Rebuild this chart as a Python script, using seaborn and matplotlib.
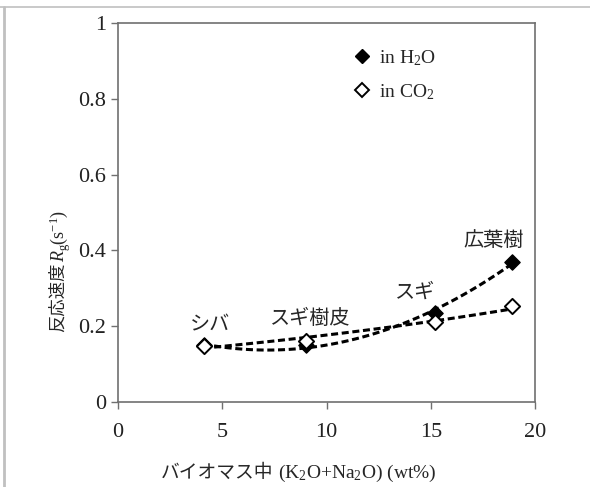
import numpy as np
import pandas as pd
import seaborn as sns
from matplotlib import pyplot as plt
from matplotlib.lines import Line2D

# data
biomass = ["シバ", "スギ樹皮", "スギ", "広葉樹"]
alkali = [4.1, 9.0, 15.2, 18.9]          # K2O+Na2O (wt%)
rate_h2o = [0.150, 0.150, 0.235, 0.369]  # Rg in H2O (s^-1)
rate_co2 = [0.148, 0.161, 0.211, 0.253]  # Rg in CO2 (s^-1)
label_x = [4.4, 9.2, 14.25, 18.0]
label_y = [0.203, 0.221, 0.289, 0.426]

sns.set_style("ticks")
plt.rcParams["font.family"] = ["Liberation Serif", "Noto Sans CJK JP"]
plt.rcParams["mathtext.fontset"] = "custom"
plt.rcParams["mathtext.rm"] = "Liberation Serif"
plt.rcParams["mathtext.it"] = "Liberation Serif:italic"
jp = ["Noto Sans CJK JP"]

df = pd.DataFrame({"x": alkali, "h2o": rate_h2o, "co2": rate_co2})

fig = plt.figure(figsize=(5.9, 4.87), dpi=100)
ax = fig.add_axes([0.2, 0.1745, 0.707, 0.7785])

# trend lines: polynomial for H2O, exponential for CO2
xs = np.linspace(min(alkali), max(alkali), 100)
c_h2o = np.polyfit(df["x"], df["h2o"], 2)
c_co2 = np.polyfit(df["x"], np.log(df["co2"]), 1)
fits = {"h2o": np.polyval(c_h2o, xs), "co2": np.exp(np.polyval(c_co2, xs))}
for col, yfit in fits.items():
    fit = pd.DataFrame({"x": xs, "y": yfit})
    sns.lineplot(data=fit, x="x", y="y", ax=ax, color="black", lw=2.2,
                 dashes=False, linestyle=(0, (2.3, 1.2)), zorder=2)

sns.scatterplot(data=df, x="x", y="h2o", ax=ax, marker="D", s=60,
                color="black", edgecolor="black", linewidth=1, zorder=3)
sns.scatterplot(data=df, x="x", y="co2", ax=ax, marker="D", s=60,
                facecolor="white", edgecolor="black", linewidth=1.4, zorder=4)

for name, lx, ly in zip(biomass, label_x, label_y):
    ax.text(lx, ly, name, ha="center", va="center", fontsize=14.5, family=jp)

handles = [
    Line2D([], [], marker="D", ls="none", ms=7, mfc="black", mec="black"),
    Line2D([], [], marker="D", ls="none", ms=7, mfc="white", mec="black", mew=1.4),
]
ax.legend(handles, ["in H$_2$O", "in CO$_2$"], loc="upper left",
          bbox_to_anchor=(0.515, 0.98), frameon=False, fontsize=14,
          handletextpad=0.3, labelspacing=0.75, handlelength=1.2)

ax.set_xlim(0, 20)
ax.set_ylim(0, 1)
ax.set_xticks([0, 5, 10, 15, 20])
ax.set_yticks([0, 0.2, 0.4, 0.6, 0.8, 1])
ax.set_yticklabels(["0", "0.2", "0.4", "0.6", "0.8", "1"])
ax.tick_params(labelsize=16, colors="#707070", labelcolor="#222222",
               direction="out", length=5, width=1)
ax.tick_params(axis="x", pad=10)
for sp in ax.spines.values():
    sp.set_color("#707070")
    sp.set_linewidth(1.2)
ax.set_xlabel("")
ax.set_ylabel("")

# axis titles, split so the Japanese part gets a CJK font
fig.text(273 / 590, 0.018, "バイオマス中", ha="right", va="baseline",
         fontsize=13.5, family=jp)
fig.text(278 / 590, 0.018, "(K$_2$O+Na$_2$O) (wt%)", ha="left",
         va="baseline", fontsize=14)
fig.text(58 / 590, 1 - 263 / 487, "反応速度", rotation=90, ha="center",
         va="top", fontsize=12.5, family=jp)
fig.text(60 / 590, 1 - 262 / 487, "$R_{\\rm g}$(s$^{-1}$)", rotation=90,
         ha="center", va="bottom", fontsize=13)

# page frame lines around the figure
fig.add_artist(Line2D([0, 1], [0.986, 0.986], color="#c0c0c0", lw=1.2))
fig.add_artist(Line2D([0.006, 0.006], [0, 0.986], color="#c0c0c0", lw=2))

fig.savefig("out.png", dpi=100)
